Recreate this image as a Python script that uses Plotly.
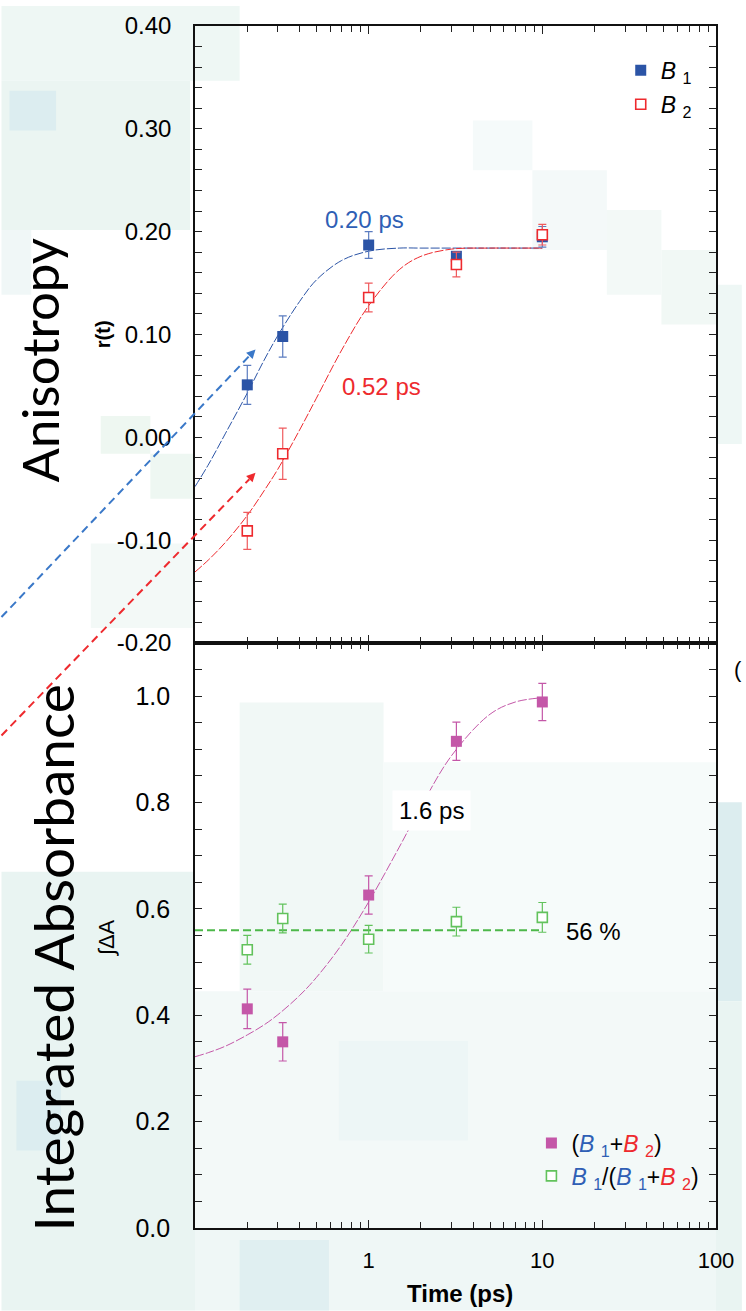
import math
import plotly.graph_objects as go

# ---- data -------------------------------------------------------------
t_ps = [0.2, 0.32, 1.0, 3.2, 10.0]

b1_r = [0.051, 0.098, 0.187, 0.176, 0.195]
b1_err = [0.019, 0.020, 0.013, 0.004, 0.010]
b2_r = [-0.091, -0.016, 0.136, 0.168, 0.197]
b2_err = [0.018, 0.025, 0.014, 0.012, 0.010]

sum_abs = [0.412, 0.350, 0.626, 0.915, 0.989]
sum_err = [0.037, 0.036, 0.036, 0.036, 0.035]
ratio = [0.523, 0.582, 0.543, 0.576, 0.584]
ratio_err = [0.027, 0.027, 0.026, 0.027, 0.028]
ratio_mean = 0.56
ratio_span = [0.1, 10.0]

# fitted rise curves
fit_t = [0.1, 0.12, 0.15, 0.2, 0.25, 0.3, 0.4, 0.5, 0.7, 1.0, 1.5, 2.0, 3.0, 5.0, 7.0, 10.0]
b1_fit = [-0.048, -0.026, 0.004, 0.043, 0.075, 0.099, 0.132, 0.153, 0.172, 0.181,
          0.184, 0.184, 0.184, 0.184, 0.184, 0.184]
b2_fit = [-0.131, -0.119, -0.102, -0.076, -0.052, -0.031, 0.007, 0.038, 0.085, 0.128,
          0.163, 0.176, 0.183, 0.184, 0.184, 0.184]
sum_fit = [0.322, 0.330, 0.342, 0.363, 0.382, 0.401, 0.437, 0.471, 0.533, 0.613,
           0.716, 0.792, 0.888, 0.966, 0.989, 0.997]

# axis ticks
x_major = [1, 10, 100]
x_major_text = ["1", "10", "100"]
x_minor = [m * d for d in (0.1, 1, 10) for m in range(2, 10)]
r_ticks = [-0.2, -0.1, 0.0, 0.1, 0.2, 0.3, 0.4]
r_tick_text = ["-0.20", "-0.10", "0.00", "0.10", "0.20", "0.30", "0.40"]
a_ticks = [0.0, 0.2, 0.4, 0.6, 0.8, 1.0]
a_tick_text = ["0.0", "0.2", "0.4", "0.6", "0.8", "1.0"]

# ---- colours ----------------------------------------------------------
BLUE = "#2b54a6"
BLUE_TXT = "#2f5fb5"
RED = "#ee2a2e"
MAGENTA = "#c457a8"
GREEN = "#4db84a"
GREEN_PT = "#62c25c"

W, H = 746, 1311
L, R, T, B = 195, 26, 20, 83
PW, PH = W - L - R, H - T - B
split = (1228 - 640) / PH  # boundary between the two panels (paper units)


def px(x):
    return (x - L) / PW


def py(y):
    return (H - B - y) / PH


fig = go.Figure()

# ---- top panel: anisotropy -------------------------------------------
fig.add_trace(go.Scatter(x=fit_t, y=b1_fit, mode="lines", line=dict(color=BLUE, width=1, dash="9px,2px", shape="spline"),
                         showlegend=False, hoverinfo="skip", xaxis="x", yaxis="y"))
fig.add_trace(go.Scatter(x=fit_t, y=b2_fit, mode="lines", line=dict(color=RED, width=1, dash="9px,2px", shape="spline"),
                         showlegend=False, hoverinfo="skip", xaxis="x", yaxis="y"))
fig.add_trace(go.Scatter(
    x=t_ps, y=b1_r, mode="markers", name="<i>B</i> <sub>1</sub>", legend="legend", legendgroup="b1",
    marker=dict(symbol="square", size=11, color=BLUE, line=dict(width=0)),
    error_y=dict(type="data", array=b1_err, color="#5b7cc0", thickness=1.2, width=4),
    xaxis="x", yaxis="y"))
fig.add_trace(go.Scatter(
    x=t_ps, y=b2_r, mode="markers", name="<i>B</i> <sub>2</sub>", legend="legend", legendgroup="b2",
    marker=dict(symbol="square", size=10, color="white", line=dict(width=1.6, color=RED)),
    error_y=dict(type="data", array=b2_err, color="#ef5b5e", thickness=1.2, width=4),
    xaxis="x", yaxis="y"))

# ---- bottom panel: integrated absorbance ------------------------------
fig.add_trace(go.Scatter(x=fit_t, y=sum_fit, mode="lines", line=dict(color=MAGENTA, width=1, dash="9px,2px", shape="spline"),
                         showlegend=False, hoverinfo="skip", xaxis="x2", yaxis="y2"))
fig.add_trace(go.Scatter(x=ratio_span, y=[ratio_mean, ratio_mean], mode="lines",
                         line=dict(color=GREEN, width=2, dash="8px,4px"),
                         showlegend=False, hoverinfo="skip", xaxis="x2", yaxis="y2"))
fig.add_trace(go.Scatter(
    x=t_ps, y=sum_abs, mode="markers", legend="legend2", legendgroup="sum",
    name=(f"(<span style='color:{BLUE_TXT}'><i>B</i> <sub>1</sub></span>+"
          f"<span style='color:{RED}'><i>B</i> <sub>2</sub></span>)"),
    marker=dict(symbol="square", size=11, color=MAGENTA, line=dict(width=0)),
    error_y=dict(type="data", array=sum_err, color=MAGENTA, thickness=1.2, width=4),
    xaxis="x2", yaxis="y2"))
fig.add_trace(go.Scatter(
    x=t_ps, y=ratio, mode="markers", legend="legend2", legendgroup="ratio",
    name=(f"<span style='color:{BLUE_TXT}'><i>B</i> <sub>1</sub></span>/("
          f"<span style='color:{BLUE_TXT}'><i>B</i> <sub>1</sub></span>+"
          f"<span style='color:{RED}'><i>B</i> <sub>2</sub></span>)"),
    marker=dict(symbol="square", size=10, color="white", line=dict(width=1.6, color=GREEN_PT)),
    error_y=dict(type="data", array=ratio_err, color=GREEN_PT, thickness=1.2, width=4),
    xaxis="x2", yaxis="y2"))

# ---- axes -------------------------------------------------------------
SANS = "Liberation Sans, Arial, sans-serif"
TICK_FONT = dict(family=SANS, color="black")
frame = dict(showline=True, linecolor="#111111", linewidth=1.6, mirror="allticks",
             ticks="inside", tickcolor="#222222", tickwidth=1.2, showgrid=False, zeroline=False)
x_minor_cfg = dict(tickvals=x_minor, ticks="inside", ticklen=6, tickcolor="#222222", tickwidth=1.2, showgrid=False)

fig.update_layout(
    xaxis=dict(**frame, type="log", range=[-1, 2], domain=[0, 1], anchor="y",
               tickvals=x_major, ticktext=x_major_text, ticklen=8, showticklabels=False,
               minor=x_minor_cfg),
    yaxis=dict(**frame, range=[-0.2, 0.4], domain=[split, 1], anchor="x",
               tickvals=r_ticks, ticktext=r_tick_text, ticklen=7,
               tickfont=dict(**TICK_FONT, size=24), ticklabelstandoff=17,
               minor=dict(tick0=0, dtick=0.02, ticks="inside", ticklen=7, tickcolor="#222222", tickwidth=1.2)),
    xaxis2=dict(**frame, type="log", range=[-1, 2], domain=[0, 1], anchor="y2", matches="x",
                tickvals=x_major, ticktext=x_major_text, ticklen=8,
                tickfont=dict(**TICK_FONT, size=22), ticklabelstandoff=12,
                minor=x_minor_cfg),
    yaxis2=dict(**frame, range=[0, 1.1], domain=[0, split], anchor="x2",
                tickvals=a_ticks, ticktext=a_tick_text, ticklen=7,
                tickfont=dict(**TICK_FONT, size=25), ticklabelstandoff=18,
                minor=dict(tick0=0, dtick=0.05, ticks="inside", ticklen=7, tickcolor="#222222", tickwidth=1.2)),
    legend=dict(x=px(624), y=py(43), xanchor="left", yanchor="top", bgcolor="rgba(0,0,0,0)",
                font=dict(family=SANS, size=23, color="black"),
                tracegroupgap=1, itemclick=False),
    legend2=dict(x=px(534), y=py(1121), xanchor="left", yanchor="top", bgcolor="rgba(0,0,0,0)",
                 font=dict(family=SANS, size=23, color="black"),
                 tracegroupgap=0, itemclick=False),
    width=W, height=H,
    margin=dict(l=L, r=R, t=T, b=B, pad=0),
    paper_bgcolor="white", plot_bgcolor="rgba(0,0,0,0)",
)

# ---- pale mosaic backdrop ---------------------------------------------
backdrop_tiles = [
    (0, 0, 240, 75, "#eef7f4"), (0, 75, 190, 225, "#ebf5f2"), (8, 85, 55, 125, "#dcedf0"),
    (0, 225, 30, 290, "#f0f7f7"), (100, 412, 150, 450, "#eef7f1"), (150, 450, 195, 495, "#eef7f2"),
    (90, 540, 195, 625, "#f3f9f7"),
    (475, 115, 535, 165, "#f5fafa"), (535, 165, 610, 245, "#f4f9f9"), (610, 205, 665, 290, "#f3f9f7"),
    (665, 245, 720, 320, "#f1f8f5"), (720, 280, 746, 440, "#eef7f5"),
    (240, 700, 385, 990, "#f1f8f6"), (385, 760, 720, 990, "#f6fbfa"),
    (195, 990, 720, 1228, "#f3f9f8"), (340, 1040, 470, 1140, "#edf6f6"),
    (0, 870, 195, 1311, "#e9f4f2"), (15, 1080, 60, 1150, "#dcedf0"),
    (195, 1228, 746, 1311, "#eff7f6"), (240, 1240, 330, 1311, "#e0eff1"),
    (720, 800, 746, 1000, "#dcedef"), (720, 1000, 746, 1311, "#e9f4f2"),
]
for x0, y0, x1, y1, c in backdrop_tiles:
    fig.add_shape(type="rect", xref="paper", yref="paper", x0=px(x0), x1=px(x1), y0=py(y0), y1=py(y1),
                  fillcolor=c, line=dict(width=0), layer="below")

# ---- dashed guide arrows from the left (dashed shaft + filled head) ---
HEAD_LEN, HEAD_HALF = 9, 4.5
for (x0, y0, x1, y1, c) in [(0, 614, 256, 345, "#3a78c8"), (0, 733, 256, 469, "#ee2a2e")]:
    dx, dy = x1 - x0, y1 - y0
    n = math.hypot(dx, dy)
    ux, uy = dx / n, dy / n
    bx, by = x1 - ux * HEAD_LEN, y1 - uy * HEAD_LEN
    fig.add_shape(type="line", xref="paper", yref="paper", x0=px(x0), y0=py(y0), x1=px(bx), y1=py(by),
                  line=dict(color=c, width=2, dash="8px,5px"))
    pts = [(x1, y1), (bx - uy * HEAD_HALF, by + ux * HEAD_HALF), (bx + uy * HEAD_HALF, by - ux * HEAD_HALF)]
    path = "M " + " L ".join(f"{px(a):.5f},{py(b):.5f}" for a, b in pts) + " Z"
    fig.add_shape(type="path", xref="paper", yref="paper", path=path, fillcolor=c, line=dict(width=0))


# ---- titles and labels -----------------------------------------------
def label(x, y, text, size, color="black", family=SANS, angle=0, **kw):
    fig.add_annotation(xref="paper", yref="paper", x=px(x), y=py(y), text=text, textangle=angle,
                       xanchor="center", yanchor="middle", showarrow=False,
                       font=dict(family=family, size=size, color=color), **kw)


TITLE_FAMILY = "Comic Sans MS, Lato, sans-serif"
label(38, 356, "Anisotropy", 51, family=TITLE_FAMILY, angle=-90)
label(103, 330, "<b>r(t)</b>", 20, angle=-90)
label(52, 957, "Integrated Absorbance", 55, family=TITLE_FAMILY, angle=-90)
label(106, 937, "∫ΔA", 22, angle=-90)
label(462, 1294, "<b>Time (ps)</b>", 24)

label(366, 214, "0.20 ps", 24, color=BLUE_TXT)
label(383, 382, "0.52 ps", 24, color=RED)
label(433, 808, "1.6 ps", 24, bgcolor="white", borderpad=6)
label(597, 930, "56 %", 24)
label(742, 667, "(", 22)

fig.write_html("out.html")
